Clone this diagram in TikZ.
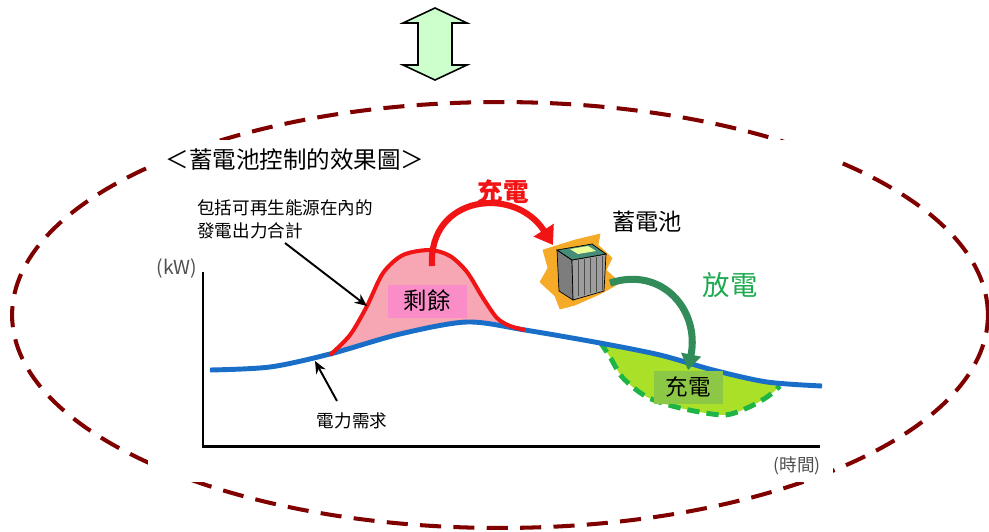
\documentclass[tikz,border=0pt]{standalone}
\usepackage{fontspec}
\setmainfont{Noto Sans CJK TC}
\usetikzlibrary{arrows.meta}

\definecolor{ringred}{RGB}{128,0,0}
\definecolor{swapgreen}{RGB}{204,255,204}
\definecolor{demandblue}{RGB}{25,110,200}
\definecolor{surplusred}{RGB}{240,20,20}
\definecolor{surplusfill}{RGB}{247,166,180}
\definecolor{surplusbox}{RGB}{250,140,200}
\definecolor{dischgreen}{RGB}{30,170,80}
\definecolor{arrowgreen}{RGB}{50,140,90}
\definecolor{chargefill}{RGB}{170,225,40}
\definecolor{chargeline}{RGB}{30,180,70}
\definecolor{chargebox}{RGB}{140,200,70}
\definecolor{battorange}{RGB}{245,170,40}
\definecolor{battgray}{RGB}{125,125,125}
\definecolor{batttop}{RGB}{70,140,120}
\definecolor{labelgray}{RGB}{80,80,80}

\begin{document}
\begin{tikzpicture}[x=0.02cm, y=-0.02cm,
    pointer/.style={black, line width=1.1pt, -{Stealth[length=7pt,width=6pt]}},
    lbl/.style={inner sep=0pt, font=\fontsize{10}{13}\selectfont}]
            \useasboundingbox (0,0) rectangle (989,531);

            \filldraw[fill=swapgreen, draw=black, line width=0.9pt]
                (435,8) -- (467,23) -- (452,23) -- (452,65) -- (467,65) -- (435,80)
                -- (403,65) -- (418,65) -- (418,23) -- (403,23) -- cycle;

            \draw[ringred, line width=2.3pt, dash pattern=on 12pt off 7pt] (500,315) ellipse [x radius=9.76cm, y radius=4.26cm];
            \fill[white] (148,140) rectangle (833,482);

            \coordinate (ytop) at (203,272);
            \coordinate (origin) at (203,446);
            \coordinate (xend) at (820,446);
            \draw[black, line width=1.7pt] (ytop) -- (origin) -- (xend);

            \fill[surplusfill] plot[smooth] coordinates {(330,355) (350,335) (367,306) (383,273) (403,255) (430,250) (450,256) (467,272) (483,298) (497,318) (510,326) (525,330)}
                -- plot[smooth] coordinates {(525,330) (467,322) (400,334) (330,354)} -- cycle;
            \fill[chargefill] plot[smooth] coordinates {(600,342) (610,357) (623,378) (647,397) (680,408) (723,415) (747,408) (767,397) (780,386)}
                -- plot[smooth] coordinates {(780,386) (767,382) (713,370) (660,355) (600,342)} -- cycle;
            \draw[chargeline, line width=2.8pt, dash pattern=on 7pt off 4pt] plot[smooth] coordinates {(600,342) (610,357) (623,378) (647,397) (680,408) (723,415) (747,408) (767,397) (780,386)};
            \draw[demandblue, line width=2.8pt] plot[smooth] coordinates {(210,370) (270,367) (330,354) (400,334) (467,322) (525,330) (600,343) (660,355) (713,370) (767,382) (822,386)};
            \draw[surplusred, line width=2.3pt] plot[smooth] coordinates {(330,355) (350,335) (367,306) (383,273) (403,255) (430,250) (450,256) (467,272) (483,298) (497,318) (510,326) (525,330)};

            \filldraw[battorange] (543,250) -- (575,240) -- (600,234) -- (598,245) -- (612,258) -- (606,270) -- (620,283)
                -- (600,294) -- (575,305) -- (560,309) -- (555,296) -- (540,282) -- (548,268) -- cycle;
            \filldraw[draw=black, fill=battgray] (557,250) -- (572,260) -- (573,300) -- (559,291) -- cycle;
            \filldraw[draw=black, fill=battgray!75] (572,260) -- (606,254) -- (604,291) -- (573,300) -- cycle;
            \foreach \x in {578,584,...,602}
                \draw[black!70, line width=0.4pt] (\x,{261-(\x-572)*0.18}) -- (\x,{298-(\x-572)*0.26});
            \filldraw[draw=black, fill=batttop] (557,250) -- (592,244) -- (606,254) -- (572,260) -- cycle;
            \fill[green!20!yellow!40] (570,249) -- (588,246) -- (596,251) -- (578,254) -- cycle;
            \coordinate (battin) at (553,245);
            \coordinate (battout) at (610,283);

            \coordinate (peak) at (432,266);
            \draw[surplusred, line width=3.5pt, -{Triangle[length=10pt,width=13pt]}] (peak) .. controls (428,195) and (515,185) .. (battin);

            \node[lbl, font=\fontsize{13.4}{16}\selectfont] (title) at (295,160) {＜蓄電池控制的效果圖＞};
            \node[lbl, align=left, anchor=west] (gen) at (197,219) {包括可再生能源在內的\\發電出力合計};
            \node[lbl, text=labelgray, font=\fontsize{11}{13}\selectfont] (kw) at (177,268) {(kW)};
            \node[lbl, text=labelgray] (time) at (797,466) {(時間)};
            \node[lbl] (demand) at (352,421) {電力需求};
            \node[fill=surplusbox, inner sep=0pt, minimum width=1.58cm, minimum height=0.66cm, font=\fontsize{13.3}{16}\selectfont] (surplus) at (427,301) {剩餘};
            \node[lbl, text=surplusred, font=\bfseries\fontsize{14.5}{17}\selectfont] (charge) at (503,192) {充電};
            \node[lbl, font=\fontsize{13.2}{16}\selectfont] (battery) at (647,222) {蓄電池};
            \node[lbl, text=dischgreen, font=\fontsize{15.6}{18}\selectfont] (discharge) at (730,285) {放電};
            \node[fill=chargebox, inner sep=0pt, minimum width=1.38cm, minimum height=0.66cm, font=\fontsize{12.8}{15}\selectfont] (chg2) at (688,387) {充電};

            \draw[arrowgreen, line width=4pt, -{Triangle[length=9pt,width=11pt]}] (battout) .. controls (662,266) and (700,310) .. (chg2.north);

            \coordinate (gentail) at (285,243);
            \coordinate (genhead) at (367,306);
            \draw[pointer] (gentail) -- (genhead);
            \coordinate (demtail) at (337,401);
            \coordinate (demhead) at (315,361);
            \draw[pointer] (demtail) -- (demhead);
        \end{tikzpicture}
\end{document}
